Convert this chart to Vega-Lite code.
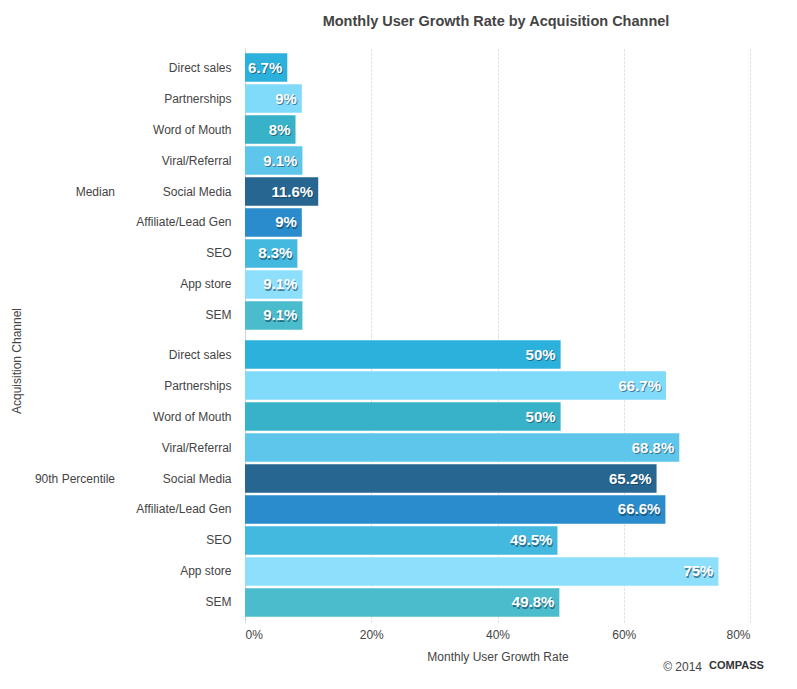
{
  "$schema": "https://vega.github.io/schema/vega-lite/v6.json",
  "padding": {"left": 11, "top": 13, "right": 5, "bottom": 5},
  "background": "white",
  "bounds": "flush",
  "config": {
    "font": "Liberation Sans",
    "view": {"stroke": null},
    "title": {"fontSize": 14.5, "fontWeight": "bold", "color": "#444444", "offset": 19, "anchor": "middle", "frame": "group", "dx": 251}
  },
  "title": {"text": "Monthly User Growth Rate by Acquisition Channel"},
  "data": {
    "values": [
      {"group": "Median", "channel": "Direct sales", "value": 0.067},
      {"group": "Median", "channel": "Partnerships", "value": 0.09},
      {"group": "Median", "channel": "Word of Mouth", "value": 0.08},
      {"group": "Median", "channel": "Viral/Referral", "value": 0.091},
      {"group": "Median", "channel": "Social Media", "value": 0.116},
      {"group": "Median", "channel": "Affiliate/Lead Gen", "value": 0.09},
      {"group": "Median", "channel": "SEO", "value": 0.083},
      {"group": "Median", "channel": "App store", "value": 0.091},
      {"group": "Median", "channel": "SEM", "value": 0.091},
      {"group": "90th Percentile", "channel": "Direct sales", "value": 0.5},
      {"group": "90th Percentile", "channel": "Partnerships", "value": 0.667},
      {"group": "90th Percentile", "channel": "Word of Mouth", "value": 0.5},
      {"group": "90th Percentile", "channel": "Viral/Referral", "value": 0.688},
      {"group": "90th Percentile", "channel": "Social Media", "value": 0.652},
      {"group": "90th Percentile", "channel": "Affiliate/Lead Gen", "value": 0.666},
      {"group": "90th Percentile", "channel": "SEO", "value": 0.495},
      {"group": "90th Percentile", "channel": "App store", "value": 0.75},
      {"group": "90th Percentile", "channel": "SEM", "value": 0.498}
    ]
  },
  "facet": {
    "row": {
      "field": "group",
      "type": "nominal",
      "sort": ["Median", "90th Percentile"],
      "title": "Acquisition Channel",
      "header": {
        "labels": false,
        "titleFontSize": 12,
        "titleFontWeight": "normal",
        "titleColor": "#444444",
        "titlePadding": 101
      }
    }
  },
  "spacing": 0,
  "spec": {
    "width": 505,
    "height": 287,
    "encoding": {
      "y": {
        "field": "channel",
        "type": "nominal",
        "sort": ["Direct sales", "Partnerships", "Word of Mouth", "Viral/Referral", "Social Media", "Affiliate/Lead Gen", "SEO", "App store", "SEM"],
        "scale": {"paddingInner": 0.08, "paddingOuter": 0.17},
        "axis": {
          "title": null,
          "ticks": false,
          "labelPadding": 14,
          "labelFontSize": 12,
          "labelColor": "#444444",
          "domainColor": "#cccccc",
          "labelLimit": 200
        }
      }
    },
    "layer": [
      {
        "mark": {"type": "bar"},
        "encoding": {
          "x": {
            "field": "value",
            "type": "quantitative",
            "scale": {"domain": [0, 0.8], "nice": false},
            "axis": {
              "values": [0, 0.2, 0.4, 0.6, 0.8],
              "format": ".0%",
              "title": "Monthly User Growth Rate",
              "titleFontSize": 12,
              "titleFontWeight": "normal",
              "titleColor": "#444444",
              "titlePadding": 11,
              "labelFontSize": 12,
              "labelColor": "#444444",
              "labelPadding": 7,
              "ticks": false,
              "domain": false,
              "grid": true,
              "gridColor": "#d8d8d8",
              "gridDash": [2, 2]
            }
          },
          "color": {
            "field": "channel",
            "type": "nominal",
            "legend": null,
            "scale": {
              "domain": ["Direct sales", "Partnerships", "Word of Mouth", "Viral/Referral", "Social Media", "Affiliate/Lead Gen", "SEO", "App store", "SEM"],
              "range": ["#2cb0dc", "#80dafa", "#38b2c8", "#5ec6ea", "#266690", "#2a8ccc", "#44b9e0", "#8ddffb", "#4bbccc"]
            }
          }
        }
      },
      {
        "mark": {"type": "text", "align": "right", "baseline": "middle", "dx": -4, "dy": 1.5, "fontSize": 15, "fontWeight": "bold", "color": "#123246", "opacity": 0.55},
        "encoding": {
          "x": {"field": "value", "type": "quantitative"},
          "text": {"field": "value", "type": "quantitative", "format": ".1~%"}
        }
      },
      {
        "mark": {"type": "text", "align": "right", "baseline": "middle", "dx": -5, "dy": 0, "fontSize": 15, "fontWeight": "bold", "color": "#ffffff"},
        "encoding": {
          "x": {"field": "value", "type": "quantitative"},
          "text": {"field": "value", "type": "quantitative", "format": ".1~%"}
        }
      },
      {
        "transform": [{"filter": "datum.channel === 'Social Media'"}],
        "mark": {"type": "text", "align": "right", "baseline": "middle", "dx": -130, "fontSize": 12, "color": "#444444"},
        "encoding": {
          "x": {"datum": 0},
          "text": {"field": "group", "type": "nominal"}
        }
      },
      {
        "transform": [{"filter": "datum.group === '90th Percentile' && datum.channel === 'SEM'"}],
        "mark": {"type": "text", "align": "right", "baseline": "middle", "dx": -48, "dy": 65, "fontSize": 12, "color": "#444444"},
        "encoding": {
          "x": {"datum": 0.8},
          "text": {"value": "© 2014"}
        }
      },
      {
        "transform": [{"filter": "datum.group === '90th Percentile' && datum.channel === 'SEM'"}],
        "mark": {"type": "text", "align": "left", "baseline": "middle", "dx": -41, "dy": 64, "fontSize": 11, "fontWeight": "bold", "color": "#333333"},
        "encoding": {
          "x": {"datum": 0.8},
          "text": {"value": "COMPASS"}
        }
      }
    ]
  }
}
